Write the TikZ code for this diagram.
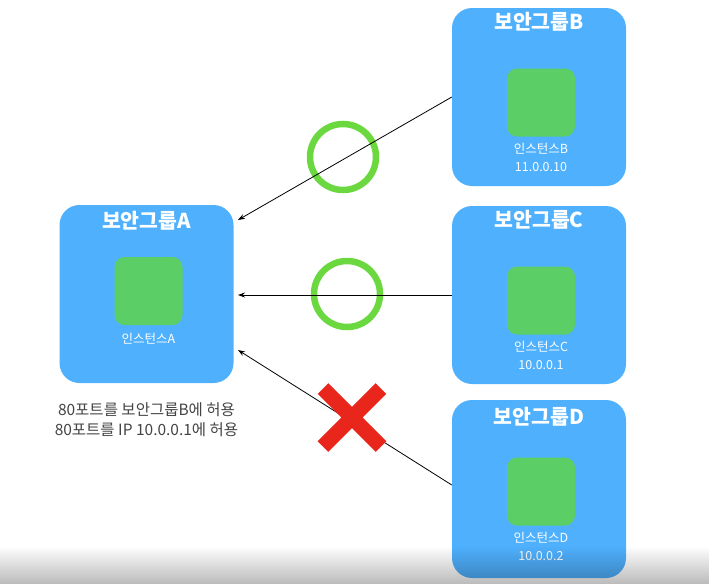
\documentclass[tikz,border=0pt]{standalone}
\usepackage{fontspec}
\setmainfont{Noto Sans CJK KR}
\usetikzlibrary{arrows.meta,shapes.misc,fadings}

\definecolor{sgblue}{RGB}{79,176,253}
\definecolor{instgreen}{RGB}{91,207,102}
\definecolor{okgreen}{RGB}{108,216,64}
\definecolor{nored}{RGB}{232,38,28}
\definecolor{notegray}{RGB}{68,68,68}

\begin{document}
\begin{tikzpicture}[x=1pt,y=1pt,yscale=-1,xscale=1,
	group/.style={fill=sgblue, rounded corners=20pt, minimum width=174pt, minimum height=178pt, inner sep=0pt},
	inst/.style={fill=instgreen, rounded corners=10pt, minimum size=68pt, inner sep=0pt},
	grouptitle/.style={text=white, font=\bfseries\fontsize{20.5}{24}\selectfont, inner sep=0pt},
	instlabel/.style={text=white, font=\fontsize{12.5}{18}\selectfont, align=center, inner sep=0pt},
	okmark/.style={circle, draw=okgreen, line width=6.5pt, minimum size=66pt, inner sep=0pt},
	nomark/.style={cross out, draw=nored, line width=15pt, minimum size=58pt, inner sep=0pt, outer sep=0pt},
	conn/.style={draw=black, line width=0.8pt, -{Stealth[length=7pt,width=5pt]}}]
	\useasboundingbox (0,0) rectangle (709,584);
	
	%Shape: Security groups
	\node [group] (A) at (146.5,294) {};
	\node [group] (B) at (539,97) {};
	\node [group] (C) at (539,295) {};
	\node [group] (D) at (539,489) {};
	
	% Group titles
	\node [grouptitle] (A title) at (146.5,221) {보안그룹A};
	\node [grouptitle] (B title) at (539,22) {보안그룹B};
	\node [grouptitle] (C title) at (539,220) {보안그룹C};
	\node [grouptitle] (D title) at (539,417) {보안그룹D};
	
	%Shape: Instances
	\node [inst] (A inst) at (148.5,291) {};
	\node [inst] (B inst) at (541,102.5) {};
	\node [inst] (C inst) at (541,300.5) {};
	\node [inst] (D inst) at (541,491.5) {};
	
	% Instance labels
	\node [instlabel, anchor=north] (A label) at (148.5,332.5) {인스턴스A};
	\node [instlabel, anchor=north] (B label) at (541,142.5) {인스턴스B\\11.0.0.10};
	\node [instlabel, anchor=north] (C label) at (541,340.5) {인스턴스C\\10.0.0.1};
	\node [instlabel, anchor=north] (D label) at (541,531.5) {인스턴스D\\10.0.0.2};
	
	% Text Node
	\node [text=notegray, font=\fontsize{15.5}{19.5}\selectfont, align=center, inner sep=0pt] (rules) at (146.5,419.5) {80포트를 보안그룹B에 허용\\80포트를 IP 10.0.0.1에 허용};
	
	%Shape: allowed marks
	\node [okmark] (B ok) at (343,157) {};
	\node [okmark] (C ok) at (347,294) {};
	
	%Straight Lines
	\coordinate (A in B) at (238,220);
	\coordinate (A in C) at (238,295);
	\coordinate (A in D) at (238,350);
	\draw [conn] (B.west) -- (A in B);
	\draw [conn] (C.west) -- (A in C);
	\draw [conn] ([yshift=-4pt]D.west) -- (A in D);
	
	%Shape: denied mark
	\node [nomark] (D no) at (352,417.5) {};
	
	% bottom shade
	\fill [black, opacity=0.27, path fading=north] (0,546) rectangle (709,584);
	
\end{tikzpicture}
\end{document}
